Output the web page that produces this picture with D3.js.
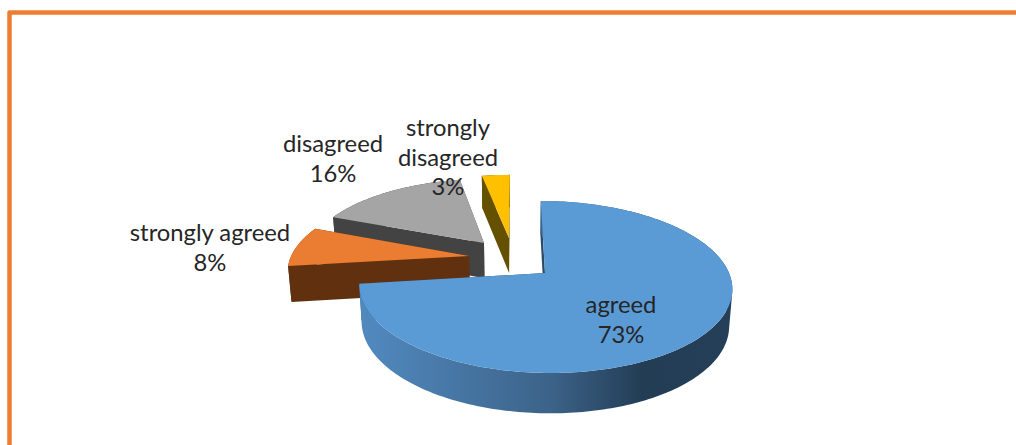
<!DOCTYPE html>
<html>
<head>
<meta charset="utf-8">
<script src="https://cdn.jsdelivr.net/npm/d3@7"></script>
<style>
  html, body { margin: 0; padding: 0; background: #fff; overflow: hidden; }
  svg { display: block; }
  text { font-family: Lato, "Open Sans", sans-serif; font-size: 23.8px; fill: #262626; text-anchor: middle; }
</style>
</head>
<body>
<svg id="chart" width="1016" height="445"></svg>
<script>
// Survey responses, in clockwise order from twelve o'clock
const categories = ["agreed", "strongly agreed", "disagreed", "strongly disagreed"];
const shares = [73, 8, 16, 3];

// Slice appearance and ground-plane explosion offsets
const topColors = ["#5b9bd5", "#ea7d31", "#a5a5a5", "#ffc000"];
const wallColors = ["url(#agreedWall)", "#61300f", "#434343", "#655000"];
const explode = [[0, 0], [-0.421, -0.21], [-0.342, -0.38], [-0.198, -0.449]];

// Label anchors: centre x and the first line's baseline
const labelLines = [["agreed"], ["strongly agreed"], ["disagreed"], ["strongly", "disagreed"]];
const labelAnchors = [[621, 313], [210, 241], [333, 152], [448, 136]];
const lineStep = 29.5;

// Perspective camera for the tilted pie
const cam = { vanishX: 515, apexX: 545, apexY: 273, radius: 184, squash: 83.7, persp: 0.1628 };

const svg = d3.select("#chart");

// Page frame along the top and left edges
svg.append("path")
  .attr("d", d3.line()([[9.5, 445], [9.5, 12.5], [1016, 12.5]]))
  .attr("fill", "none")
  .attr("stroke", "#ed7d31")
  .attr("stroke-width", 4.5)
  .attr("stroke-linejoin", "round");

// Shaded outer wall of the large slice
const grad = svg.append("defs").append("linearGradient")
  .attr("id", "agreedWall")
  .attr("gradientUnits", "userSpaceOnUse")
  .attr("x1", 365).attr("x2", 735).attr("y1", 0).attr("y2", 0);
[[0, "#5189bf"], [0.5, "#3c6389"], [0.75, "#233d55"], [1, "#263f58"]].forEach(([o, c]) =>
  grad.append("stop").attr("offset", o).attr("stop-color", c));

// Ground-plane point to screen, on the top face of the pie
function projectTop(u, v) {
  const s = 1 / (1 - cam.persp * v);
  return [
    cam.vanishX + (cam.apexX - cam.vanishX + cam.radius * u) * s,
    cam.apexY + cam.squash * v * s
  ];
}

// Same point on the lower face: further from the camera, so pulled in slightly
function projectBase(u, v) {
  const [x, y] = projectTop(u, v);
  return [cam.vanishX + (x - cam.vanishX) * 0.985, y + 32.5 + 0.04 * (y - 177)];
}

const arcs = d3.pie().sort(null).value(d => d)(shares);
const line = d3.line();

// Rim of a slice in ground-plane coordinates, offset by its explosion
function rim(arc, offset) {
  const n = Math.max(2, Math.ceil((arc.endAngle - arc.startAngle) / 0.02));
  return d3.range(n + 1).map(i => {
    const a = arc.startAngle + (arc.endAngle - arc.startAngle) * i / n;
    return [Math.sin(a) + offset[0], -Math.cos(a) + offset[1]];
  });
}

// Quad with a fixed winding, so a compound path of them fills as a seamless union
function windedQuad(quad) {
  const q = d3.polygonArea(quad) < 0 ? quad.slice().reverse() : quad;
  return line(q) + "Z";
}

// Painted from the back of the pie to the front
d3.range(arcs.length).reverse().forEach(i => {
  const offset = explode[i];
  const pts = rim(arcs[i], offset);
  const g = svg.append("g").attr("class", "slice");

  const topRim = pts.map(p => projectTop(p[0], p[1]));
  const baseRim = pts.map(p => projectBase(p[0], p[1]));
  const apexTop = projectTop(offset[0], offset[1]);
  const apexBase = projectBase(offset[0], offset[1]);
  const first = 0, last = pts.length - 1;

  // Cut faces running from the apex to each end of the rim
  [first, last].forEach(k => {
    g.append("path")
      .attr("d", line([apexTop, topRim[k], baseRim[k], apexBase]) + "Z")
      .attr("fill", i === 0 ? "#2c4b68" : wallColors[i]);
  });

  // Outer curved wall
  g.append("path")
    .attr("d", d3.pairs(d3.range(pts.length))
      .map(([a, b]) => windedQuad([topRim[a], topRim[b], baseRim[b], baseRim[a]]))
      .join(""))
    .attr("fill", wallColors[i]);

  // Top face
  g.append("path")
    .attr("d", line([apexTop].concat(topRim)) + "Z")
    .attr("fill", topColors[i]);
});

// Category names with their percentages
categories.forEach((name, i) => {
  const [x, y] = labelAnchors[i];
  const rows = labelLines[i].concat(shares[i] + "%");
  const t = svg.append("text").attr("class", "label").attr("data-category", name);
  rows.forEach((row, r) => {
    t.append("tspan").attr("x", x).attr("y", y + r * lineStep).text(row);
  });
});
</script>
</body>
</html>
